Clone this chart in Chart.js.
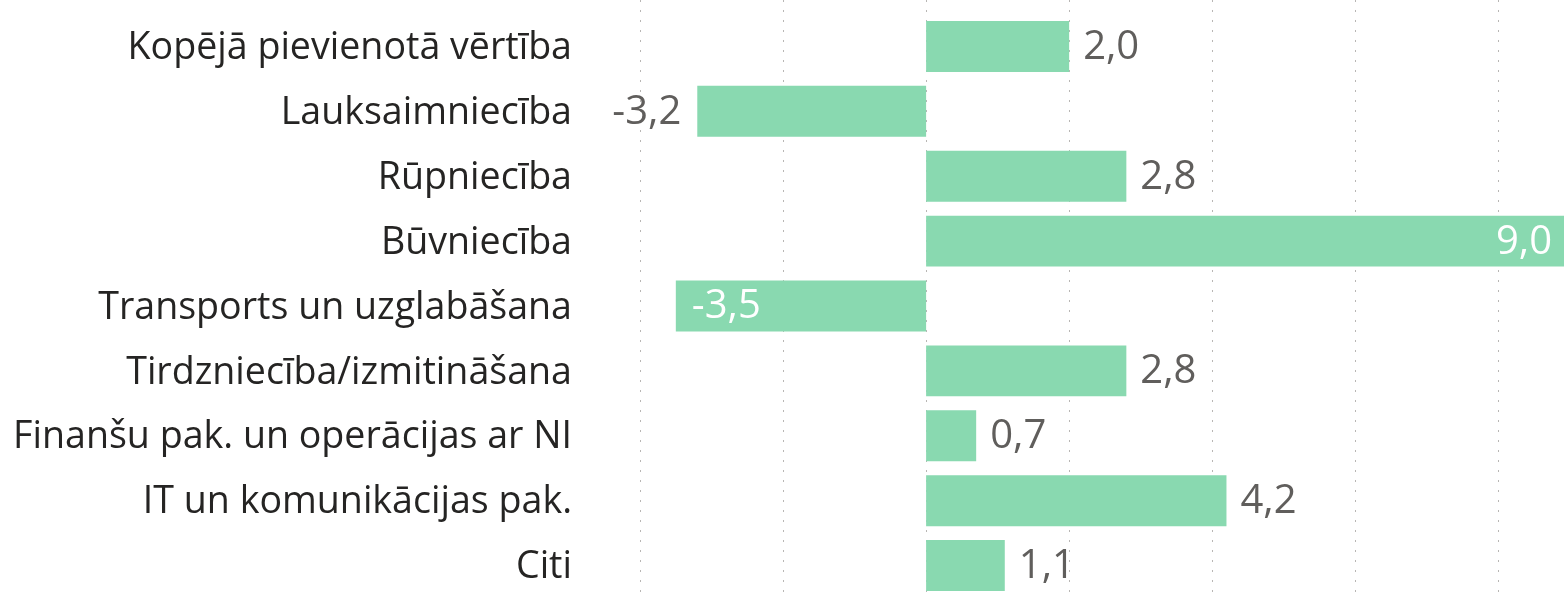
<!DOCTYPE html>
<html>
<head>
<meta charset="utf-8">
<script src="https://cdn.jsdelivr.net/npm/chart.js@4/dist/chart.umd.min.js"></script>
<style>
html,body{margin:0;padding:0;background:#fff;}
#wrap{width:1564px;height:598px;position:relative;}
</style>
</head>
<body>
<div id="wrap"><canvas id="c"></canvas></div>
<script>
const categories = [
  "Kopējā pievienotā vērtība",
  "Lauksaimniecība",
  "Rūpniecība",
  "Būvniecība",
  "Transports un uzglabāšana",
  "Tirdzniecība/izmitināšana",
  "Finanšu pak. un operācijas ar NI",
  "IT un komunikācijas pak.",
  "Citi"
];
const values = [2.0, -3.2, 2.8, 9.0, -3.5, 2.8, 0.7, 4.2, 1.1];
const gridTicks = [-4, -2, 0, 2, 4, 6, 8];
const axisMin = -4.84;
const axisMax = 8.92;
const insideLabels = [3, 4];

const FONT = "'Open Sans', 'Noto Sans', sans-serif";

const fmt = v => v.toFixed(1).replace('.', ',');

const gridPlugin = {
  id: 'dottedGrid',
  beforeDatasetsDraw(chart) {
    const ctx = chart.ctx, xs = chart.scales.x;
    ctx.save();
    ctx.strokeStyle = '#b8b6b4';
    ctx.lineWidth = 1;
    ctx.setLineDash([2, 8]);
    gridTicks.forEach(t => {
      const x = Math.round(xs.getPixelForValue(t)) + 0.5;
      ctx.beginPath();
      ctx.moveTo(x, 0);
      ctx.lineTo(x, chart.height);
      ctx.stroke();
    });
    ctx.restore();
  }
};

const labelPlugin = {
  id: 'valueLabels',
  afterDatasetsDraw(chart) {
    const ctx = chart.ctx;
    const meta = chart.getDatasetMeta(0);
    const area = chart.chartArea;
    ctx.save();
    ctx.font = '40px ' + FONT;
    ctx.textBaseline = 'middle';
    meta.data.forEach((bar, i) => {
      const v = values[i];
      const txt = fmt(v);
      const inside = insideLabels.includes(i);
      const end = Math.min(Math.max(bar.x, area.left), area.right);
      let x, align;
      if (v >= 0) {
        if (inside) { x = end - 12; align = 'right'; ctx.fillStyle = '#ffffff'; }
        else { x = end + 14; align = 'left'; ctx.fillStyle = '#605e5c'; }
      } else {
        if (inside) { x = end + 16; align = 'left'; ctx.fillStyle = '#ffffff'; }
        else { x = end - 16; align = 'right'; ctx.fillStyle = '#605e5c'; }
      }
      ctx.textAlign = align;
      ctx.fillText(txt, x, bar.y + 1);
    });
    ctx.restore();
  }
};

new Chart(document.getElementById('c'), {
  type: 'bar',
  data: {
    labels: categories,
    datasets: [{
      data: values,
      backgroundColor: '#89d9b0',
      borderWidth: 0,
      barPercentage: 0.785,
      categoryPercentage: 1.0
    }]
  },
  options: {
    indexAxis: 'y',
    responsive: true,
    maintainAspectRatio: false,
    animation: false,
    layout: { padding: { top: 14, right: 0, bottom: 0, left: 0 } },
    plugins: { legend: { display: false }, tooltip: { enabled: false } },
    scales: {
      x: {
        display: false,
        min: axisMin,
        max: axisMax,
        afterBuildTicks: s => { s.ticks = gridTicks.map(v => ({ value: v })); }
      },
      y: {
        afterFit: s => { s.width = 580; s.paddingTop = 0; s.paddingBottom = 0; },
        grid: { display: false, drawTicks: false },
        border: { display: false },
        ticks: {
          padding: 8,
          labelOffset: 2,
          color: '#252423',
          font: { family: FONT, size: 37.6 }
        }
      }
    }
  },
  plugins: [gridPlugin, labelPlugin]
});
</script>
</body>
</html>
